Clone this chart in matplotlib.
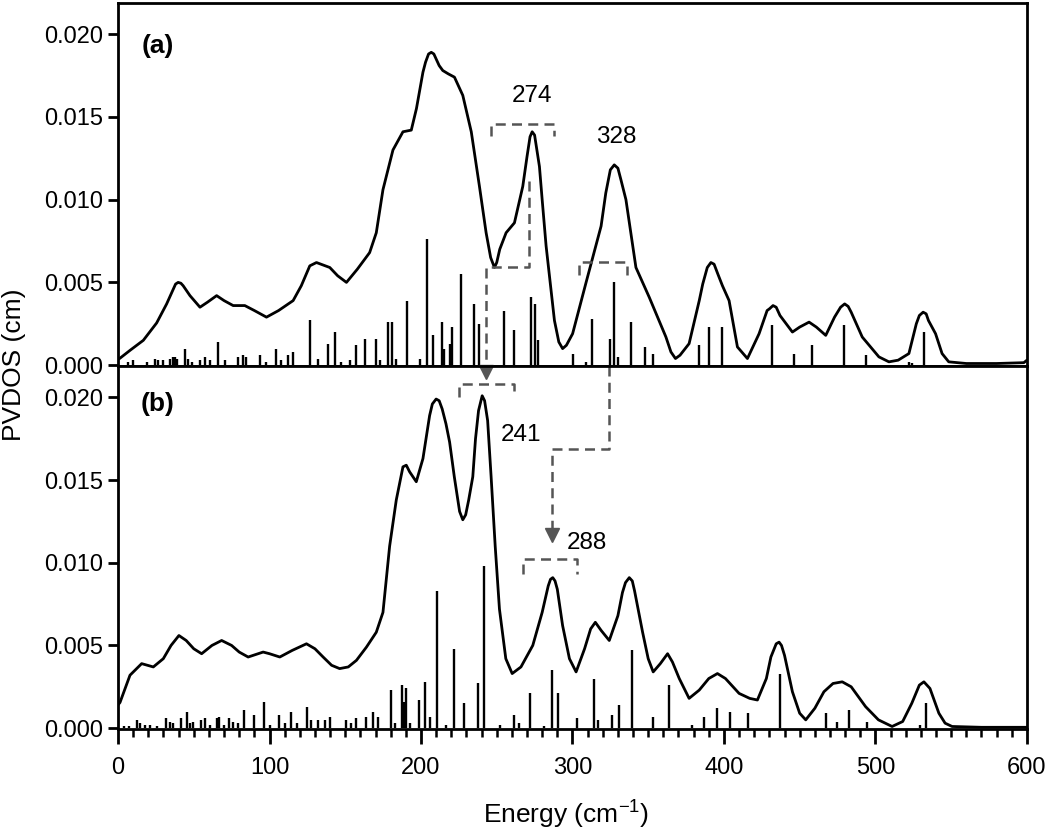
import matplotlib
matplotlib.use("Agg")
import matplotlib.pyplot as plt
import numpy as np

plt.rcParams['font.family'] = ['Liberation Sans', 'DejaVu Sans']
plt.rcParams['mathtext.fontset'] = 'custom'
plt.rcParams['mathtext.rm'] = 'Liberation Sans'
plt.rcParams['mathtext.it'] = 'Liberation Sans:italic'

# ---- panel (a): broadened PVDOS curve, (energy cm-1, value x1e-3 cm) ----
a_curve = [(0, 0.35), (1.3, 0.42), (8, 0.9), (16.7, 1.5), (25.5, 2.55), (32.1, 3.7), (36, 4.5),
           (38, 4.9), (39.7, 5.0), (41.5, 4.95), (43, 4.8), (47.5, 4.2), (54.1, 3.5), (59, 3.8),
           (65.1, 4.2), (70, 3.9), (76, 3.6), (83.7, 3.6), (90, 3.3), (98, 2.9), (106, 3.3),
           (115.6, 3.9), (121, 4.8), (126.6, 6.0), (131, 6.2), (139.8, 5.9), (145, 5.4),
           (150.8, 5.0), (158, 5.8), (166.1, 6.8), (170.5, 8.0), (174.9, 10.6), (181.5, 13.0),
           (188.1, 14.1), (193.6, 14.2), (197, 15.5), (201.3, 17.7), (203, 18.3), (205, 18.8),
           (206.8, 18.9), (208.5, 18.8), (210, 18.5), (212, 18.1), (214.4, 17.8), (218, 17.6),
           (222.1, 17.4), (227.6, 16.3), (233.2, 14.1), (238.6, 10.8), (243, 8.0), (246, 6.5),
           (248.5, 5.9), (250, 6.2), (252, 7.0), (256.2, 8.0), (261.7, 8.6), (267.2, 10.8),
           (270, 12.6), (272, 13.8), (273.4, 14.1), (275, 13.9), (276.5, 13.0), (278.2, 12.0),
           (280, 10.0), (282.6, 7.2), (288.1, 2.7), (291, 1.4), (293.5, 1.0), (296, 1.2),
           (300.1, 1.9), (309, 5.0), (318.9, 8.4), (322, 10.4), (325, 11.8), (327.6, 12.1),
           (330, 11.9), (332, 11.2), (335.3, 10.0), (341.9, 5.9), (350.7, 4.1), (361.7, 1.7),
           (365, 0.8), (368, 0.4), (371, 0.6), (377, 1.3), (383.7, 3.9), (386, 4.9), (389, 5.9),
           (391.4, 6.2), (393.5, 6.1), (396, 5.5), (399, 4.8), (403.4, 3.9), (408.9, 1.1),
           (415.5, 0.4), (423.2, 1.9), (428.5, 3.3), (430, 3.4), (432.4, 3.6), (434.5, 3.5),
           (437, 3.0), (445.2, 2.0), (450, 2.3), (456.2, 2.6), (461, 2.3), (467.2, 1.8),
           (473, 2.9), (477, 3.5), (479.7, 3.7), (482, 3.55), (484, 3.2), (491.3, 1.7),
           (502.3, 0.5), (508.9, 0.2), (515, 0.3), (522.1, 0.7), (527, 2.5), (529, 3.0),
           (531.5, 3.2), (533.5, 3.1), (535, 2.7), (539.7, 1.9), (544, 0.7), (548.4, 0.2),
           (560, 0.1), (580, 0.1), (598, 0.15), (600, 0.3)]

# panel (a): calculated mode intensities (sticks)
a_stick_x = [6.8, 10.1, 18.9, 24.4, 26.6, 29.9, 34.3, 36.5, 37.6, 38.7, 44.2, 46.4, 48.6,
             54.1, 57.4, 60.6, 66.1, 70.5, 79.3, 82.6, 84.8, 93.6, 98, 104.6, 107.9,
             112.3, 115.6, 126.6, 132, 138.6, 143.5, 147.5, 152.9, 156.9, 162.8, 170.5,
             172.7, 178.2, 181.1, 183.7, 190.5, 199.1, 204.2, 207.8, 214, 215.1, 218.9,
             220.6, 226.1, 234.7, 238.6, 254.7, 261.3, 272.3, 275.3, 277.1, 300.1, 309,
             312.7, 324.8, 327.6, 329.8, 338.6, 348.1, 352.9, 383.3, 390.2, 399, 431.6,
             446.3, 458.3, 479.2, 493.5, 522.1, 524.3, 532.4]
a_stick_h = [0.2, 0.3, 0.2, 0.4, 0.3, 0.3, 0.4, 0.5, 0.5, 0.4, 1.0, 0.4, 0.2,
             0.3, 0.5, 0.3, 1.4, 0.3, 0.5, 0.6, 0.5, 0.6, 0.2, 1.0, 0.3,
             0.6, 0.8, 2.7, 0.4, 1.3, 2.0, 0.2, 0.3, 1.2, 1.6, 1.6,
             0.3, 2.6, 2.6, 0.4, 3.9, 0.4, 7.6, 1.8, 2.6, 1.0, 1.3,
             2.3, 5.5, 3.7, 2.5, 3.3, 2.1, 4.1, 3.7, 1.5, 0.7, 0.2,
             2.8, 1.6, 5.0, 0.5, 2.6, 1.1, 0.7, 1.2, 2.3, 2.3, 2.4,
             0.7, 1.2, 2.4, 0.6, 0.2, 0.1, 2.0]

# ---- panel (b) ----
b_curve = [(0, 1.4), (1.3, 1.55), (7.9, 3.2), (15.6, 3.9), (23.3, 3.7), (29.9, 4.2), (35, 5.0),
           (40.2, 5.6), (45, 5.3), (50, 4.8), (55.2, 4.5), (62, 5.0), (68.4, 5.3), (75, 5.0),
           (80, 4.6), (85.9, 4.3), (95.8, 4.6), (100, 4.5), (106.8, 4.3), (115, 4.7),
           (124.4, 5.1), (130, 4.8), (135.4, 4.3), (141, 3.8), (146.3, 3.6), (152, 3.7),
           (157.4, 4.1), (164, 4.9), (170.5, 5.8), (174.9, 7.0), (179.3, 11.0), (183.7, 13.8),
           (188.1, 15.8), (190.3, 15.9), (192.5, 15.5), (196.9, 14.9), (201.3, 16.3),
           (205.7, 18.9), (207.5, 19.6), (210, 19.9), (212, 19.8), (214, 19.3), (216.5, 18.4),
           (218.9, 17.3), (222, 15.2), (225.5, 13.1), (227.6, 12.6), (229.5, 12.9),
           (231.5, 13.8), (234.2, 15.2), (236, 17.5), (238, 19.2), (240.4, 20.1), (242, 19.8),
           (244, 18.6), (246.3, 15.2), (249, 11.0), (251.8, 7.2), (256, 4.2), (260.2, 3.3),
           (266, 3.7), (273.8, 5.0), (280, 7.0), (284, 8.6), (285.5, 9.0), (287, 9.1),
           (288.5, 8.9), (290, 8.4), (293.5, 6.2), (298, 4.2), (302.4, 3.4), (308, 4.8),
           (312, 6.0), (315.1, 6.4), (319, 5.9), (324.3, 5.3), (330, 6.8), (333, 8.2),
           (335, 8.8), (337.5, 9.1), (339.5, 8.9), (341, 8.3), (346.3, 5.8), (350, 4.2),
           (353.3, 3.4), (358, 3.9), (362.8, 4.5), (366, 4.0), (370.5, 3.0), (377, 1.8),
           (383.7, 2.3), (390, 3.0), (395.7, 3.3), (401, 3.0), (410, 2.1), (417, 1.8),
           (422.1, 1.7), (428, 3.0), (431, 4.3), (434.5, 5.1), (436.4, 5.2), (438, 5.0),
           (440, 4.4), (445.2, 2.2), (450, 0.9), (454, 0.5), (460, 1.2), (466, 2.2),
           (472, 2.7), (478.1, 2.8), (484, 2.5), (493.5, 1.3), (502, 0.5), (511, 0.1),
           (518, 0.4), (524, 1.5), (529, 2.6), (532, 2.8), (536, 2.4), (541.9, 0.9),
           (546, 0.3), (550.6, 0.1), (570, 0.05), (600, 0.05)]

b_stick_x = [4, 7, 12.3, 14.5, 17.8, 21.1, 26, 31.6, 34.3, 36.5, 41.5, 45.3, 47.5, 49.6,
             54.5, 57.3, 61, 65.1, 66.6, 70, 73.4, 76, 79, 83.1, 89.9, 96.4, 100, 106.3,
             110, 114.5, 118, 124.8, 127.7, 132, 136.5, 139.8, 150.8, 154, 157.4, 163.9,
             168.3, 171.6, 180.4, 183, 187.4, 188.7, 190.3, 193, 198.4, 202.4, 205.7,
             210.7, 216.7, 222.1, 228.3, 237.5, 241.5, 252.3, 261.3, 264.6, 272, 281,
             286.3, 290.7, 303, 314, 316.6, 326.1, 330.9, 339.3, 353.3, 363.9, 379.2,
             386.9, 395.3, 403.9, 416.2, 436.8, 467.2, 474.8, 482.5, 494.6, 529.1, 533.1]
b_stick_h = [0.1, 0.15, 0.5, 0.3, 0.2, 0.2, 0.1, 0.6, 0.4, 0.3, 0.6, 1.0, 0.3, 0.4,
             0.5, 0.6, 0.2, 0.6, 0.7, 0.2, 0.6, 0.4, 0.3, 1.1, 0.8, 1.6, 0.2, 0.8,
             0.3, 1.0, 0.3, 1.3, 0.5, 0.5, 0.5, 0.7, 0.5, 0.3, 0.6, 0.7,
             1.0, 0.7, 2.3, 0.3, 2.6, 1.6, 2.4, 0.3, 1.7, 2.8, 0.7,
             8.3, 0.2, 4.8, 1.5, 2.7, 9.8, 0.2, 0.8, 0.3, 2.1, 0.1,
             3.5, 2.1, 0.6, 3.0, 0.5, 0.8, 1.4, 4.7, 0.7, 2.6, 0.2,
             0.7, 1.2, 1.0, 0.9, 3.3, 0.9, 0.4, 1.1, 0.4, 0.2, 1.5]

SCALE = 1e-3
GRAY = '#555555'
DASH = (0, (4, 2.5))

fig = plt.figure(figsize=(10.5, 8.35), dpi=100)
left, right = 0.1124, 0.978
ax_a = fig.add_axes([left, 0.5617, right - left, 0.9968 - 0.5617])
ax_b = fig.add_axes([left, 0.127, right - left, 0.5617 - 0.127], sharex=ax_a)

for ax, curve, sx, sh in [(ax_a, a_curve, a_stick_x, a_stick_h),
                          (ax_b, b_curve, b_stick_x, b_stick_h)]:
    cx, cy = zip(*curve)
    ax.plot(cx, np.array(cy) * SCALE, color='black', lw=2.0,
            solid_joinstyle='round', solid_capstyle='round')
    ax.vlines(sx, 0, np.array(sh) * SCALE, color='black', lw=1.7)
    ax.set_xlim(0, 600)
    ax.set_ylim(-0.00005, 0.0219)
    ax.set_yticks([0, 0.005, 0.010, 0.015, 0.020])
    ax.set_yticklabels(['0.000', '0.005', '0.010', '0.015', '0.020'])
    for s in ax.spines.values():
        s.set_linewidth(2.0)
    ax.tick_params(axis='y', direction='out', length=7, width=2.0, labelsize=17, pad=4)

ax_a.tick_params(axis='x', which='both', bottom=False, labelbottom=False)
ax_b.set_xticks(np.arange(0, 601, 100))
ax_b.set_xticks(np.arange(0, 601, 10), minor=True)
ax_b.tick_params(axis='x', which='major', direction='out', length=11, width=2.0,
                 labelsize=17, pad=9)
ax_b.tick_params(axis='x', which='minor', direction='out', length=6, width=1.8)

ax_a.text(26.4, 0.0193, '(a)', fontsize=19, fontweight='bold', ha='center', va='center')
ax_b.text(26.4, 0.0196, '(b)', fontsize=19, fontweight='bold', ha='center', va='center')

# ---- dashed brackets and arrows ----
def bracket(ax, x0, x1, ytop, yleg):
    ax.plot([x0, x0, x1, x1], [yleg, ytop, ytop, yleg], color=GRAY, lw=1.8,
            linestyle=DASH, clip_on=False)

bracket(ax_a, 246.5, 288.1, 0.01455, 0.01382)
bracket(ax_a, 304.5, 336.2, 0.00624, 0.00545)
ax_a.text(273.6, 0.01624, '274', fontsize=17.5, ha='center', va='center')
ax_a.text(329.0, 0.0138, '328', fontsize=17.5, ha='center', va='center')
ax_a.plot([271.6, 271.6, 243.2, 243.2], [0.0111, 0.0059, 0.0059, -0.00005],
          color=GRAY, lw=1.8, linestyle=DASH)

bracket(ax_b, 224.8, 261.7, 0.02079, 0.0200)
bracket(ax_b, 267.6, 303.2, 0.01021, 0.0093)
ax_b.text(266.3, 0.0177, '241', fontsize=17.5, ha='center', va='center')
ax_b.text(309.8, 0.01118, '288', fontsize=17.5, ha='center', va='center')
ax_b.plot([243.2, 243.2], [0.0219, 0.0216], color=GRAY, lw=1.8, linestyle=DASH)
ax_b.plot(243.2, 0.02155, marker='v', color=GRAY, markersize=10, clip_on=False)
ax_b.plot([324.3, 324.3, 286.8, 286.8], [0.0219, 0.01686, 0.01686, 0.0118],
          color=GRAY, lw=1.8, linestyle=DASH)
ax_b.plot(286.8, 0.01165, marker='v', color=GRAY, markersize=10)

fig.text(0.539, 0.024, 'Energy (cm$^{-1}$)', fontsize=19, ha='center', va='center')
fig.text(0.013, 0.563, 'PVDOS (cm)', fontsize=19, ha='center', va='center', rotation=90)

fig.savefig('out.png', dpi=100)
